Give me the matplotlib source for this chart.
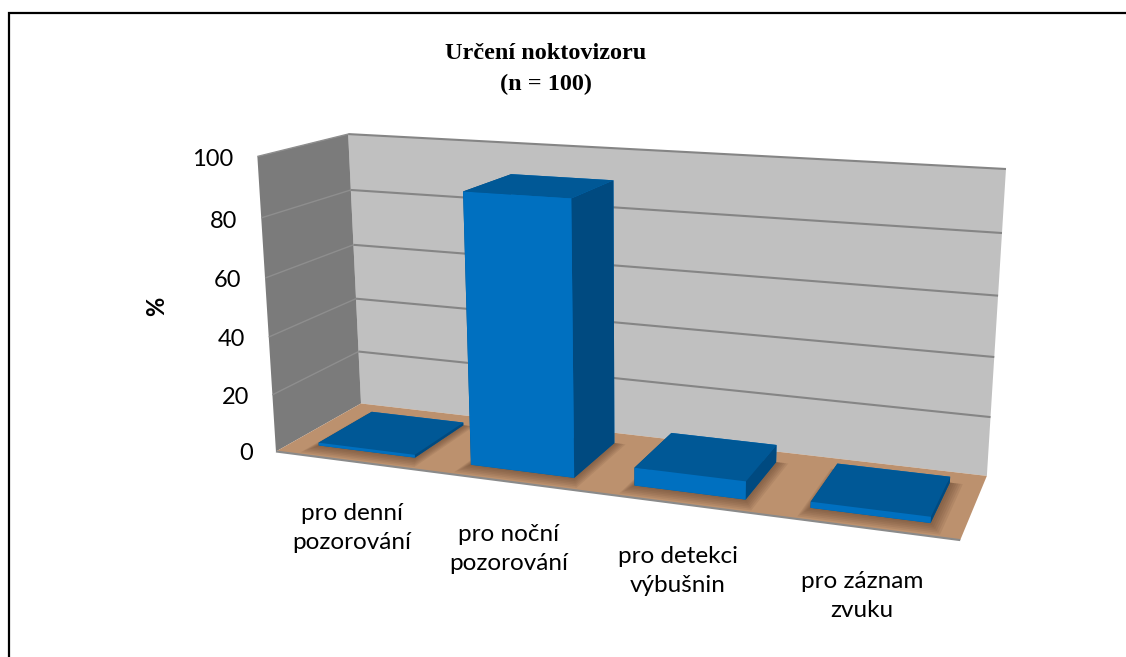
import numpy as np
import matplotlib
matplotlib.use('Agg')
import matplotlib.pyplot as plt
from matplotlib.lines import Line2D
from mpl_toolkits.mplot3d import proj3d
from mpl_toolkits.mplot3d.art3d import Poly3DCollection, Line3DCollection

W, H = 1126, 657

categories = ['pro denní\npozorování', 'pro noční\npozorování', 'pro detekci\nvýbušnin', 'pro záznam\nzvuku']
values = [1, 91, 6, 2]
ticks = [0, 20, 40, 60, 80, 100]

# where the corners of the chart box land in the picture: (x, depth, z) -> pixel
box_world = [(0, 0, 0), (0, 1, 0), (4, 1, 0), (4, 0, 0), (0, 0, 100), (0, 1, 100), (4, 1, 100)]
box_pixel = [(276, 452), (361, 403), (987, 476), (960, 540), (257.5, 156), (348, 134.5), (1006, 169)]


def fit_camera(ax):
    # 3x4 camera from the box corners, then made into the 4x4 that mplot3d wants
    world = np.array(box_world, float) / [4, 1, 100]
    disp = np.array([(x, H - y) for x, y in box_pixel], float)
    data = ax.transData.inverted().transform(disp)
    rows = []
    for (a, b, c), (u, v) in zip(world, data):
        rows.append([a, b, c, 1, 0, 0, 0, 0, -u * a, -u * b, -u * c, -u])
        rows.append([0, 0, 0, 0, a, b, c, 1, -v * a, -v * b, -v * c, -v])
    P = np.linalg.svd(np.array(rows))[2][-1].reshape(3, 4)
    P = P / P[2, 3]
    P[:, :3] = P[:, :3] / [4, 1, 100]
    depth = P[2] - np.array([0, 0, 0, 0.5])
    return np.vstack([P[0], P[1], depth, P[2]])


fig = plt.figure(figsize=(W / 100, H / 100), dpi=100)
# square axes wider than the figure, mplot3d forces square anyway
ax = fig.add_axes([0, (H - W) / 2 / H, 1, W / H], projection='3d', computed_zorder=False)
ax.set_axis_off()
ax.set_facecolor('none')
ax.get_proj = lambda: fit_camera(ax)

# frame only shows on the top and the left
fig.add_artist(Line2D([9 / W, 9 / W, 1], [0, 1 - 12.5 / H, 1 - 12.5 / H], transform=fig.transFigure,
                      color='black', linewidth=1.6, solid_joinstyle='miter'))


def add_face(corners, color, zorder, alpha=None):
    face = Poly3DCollection([corners], facecolors=color, edgecolors='none', linewidths=0, alpha=alpha, zorder=zorder)
    ax.add_collection3d(face)


def add_lines(segments, color, width):
    ax.add_collection3d(Line3DCollection(segments, colors=color, linewidths=width, zorder=2))


# walls and floor
add_face([(0, 1, 0), (4, 1, 0), (4, 1, 100), (0, 1, 100)], '#C0C0C0', 1)
add_face([(0, 0, 0), (0, 1, 0), (0, 1, 100), (0, 0, 100)], '#7B7B7B', 1)
add_face([(0, 0, 0), (4, 0, 0), (4, 1, 0), (0, 1, 0)], '#BC916E', 1)

add_lines([[(0, 1, t), (4, 1, t)] for t in ticks[1:]], '#858585', 1.5)
add_lines([[(0, 0, t), (0, 1, t)] for t in ticks[1:]], '#8E8E8E', 1.0)
add_lines([[(0, 0, 0), (4, 0, 0)]], '#8A8A8A', 1.5)

bar_x = 0.18
bar_w = 0.64
bar_y = 0.18
bar_d = 0.64

for i, v in enumerate(values):
    x0 = i + bar_x
    # soft shadow on the floor
    for k in range(6, 0, -1):
        d = 0.012 * k
        add_face([(x0 - d / 2, bar_y - d * 2, 0), (x0 + bar_w + d, bar_y - d * 2, 0),
                  (x0 + bar_w + d, bar_y + bar_d, 0), (x0 - d / 2, bar_y + bar_d, 0)],
                 '#5A3E28', 3, alpha=0.11)
    ax.bar3d(x0, bar_y, 0, bar_w, bar_d, v, shade=False, zorder=4,
             color=['#005896', '#005896', '#0070C0', '#0070C0', '#004A80', '#004A80'])

# tick labels sit just left of the front edge of the side wall
M = fit_camera(ax)
for t in ticks:
    tx, ty, _ = proj3d.proj_transform(-0.16, 0, t, M)
    px, py = ax.transData.transform((tx, ty))
    fig.text(px / W, (py - 5) / H, str(t), ha='right', va='center', fontsize=17, family='Lato', color='black')

label_pos = [(352, 528), (509, 549), (678, 571), (862, 596)]
for lab, (px, py) in zip(categories, label_pos):
    fig.text(px / W, 1 - py / H, lab, ha='center', va='center', fontsize=17.5, family='Lato',
             color='black', linespacing=1.45)

fig.text(157 / W, 1 - 306 / H, '%', rotation=90, ha='center', va='center', fontsize=17,
         fontweight='bold', family='Lato')
fig.text(546 / W, 1 - 69 / H, 'Určení noktovizoru\n(n = 100)', ha='center', va='center', fontsize=17.5,
         fontweight='bold', family='Liberation Serif', linespacing=1.58)

fig.savefig('out.png', dpi=100)
